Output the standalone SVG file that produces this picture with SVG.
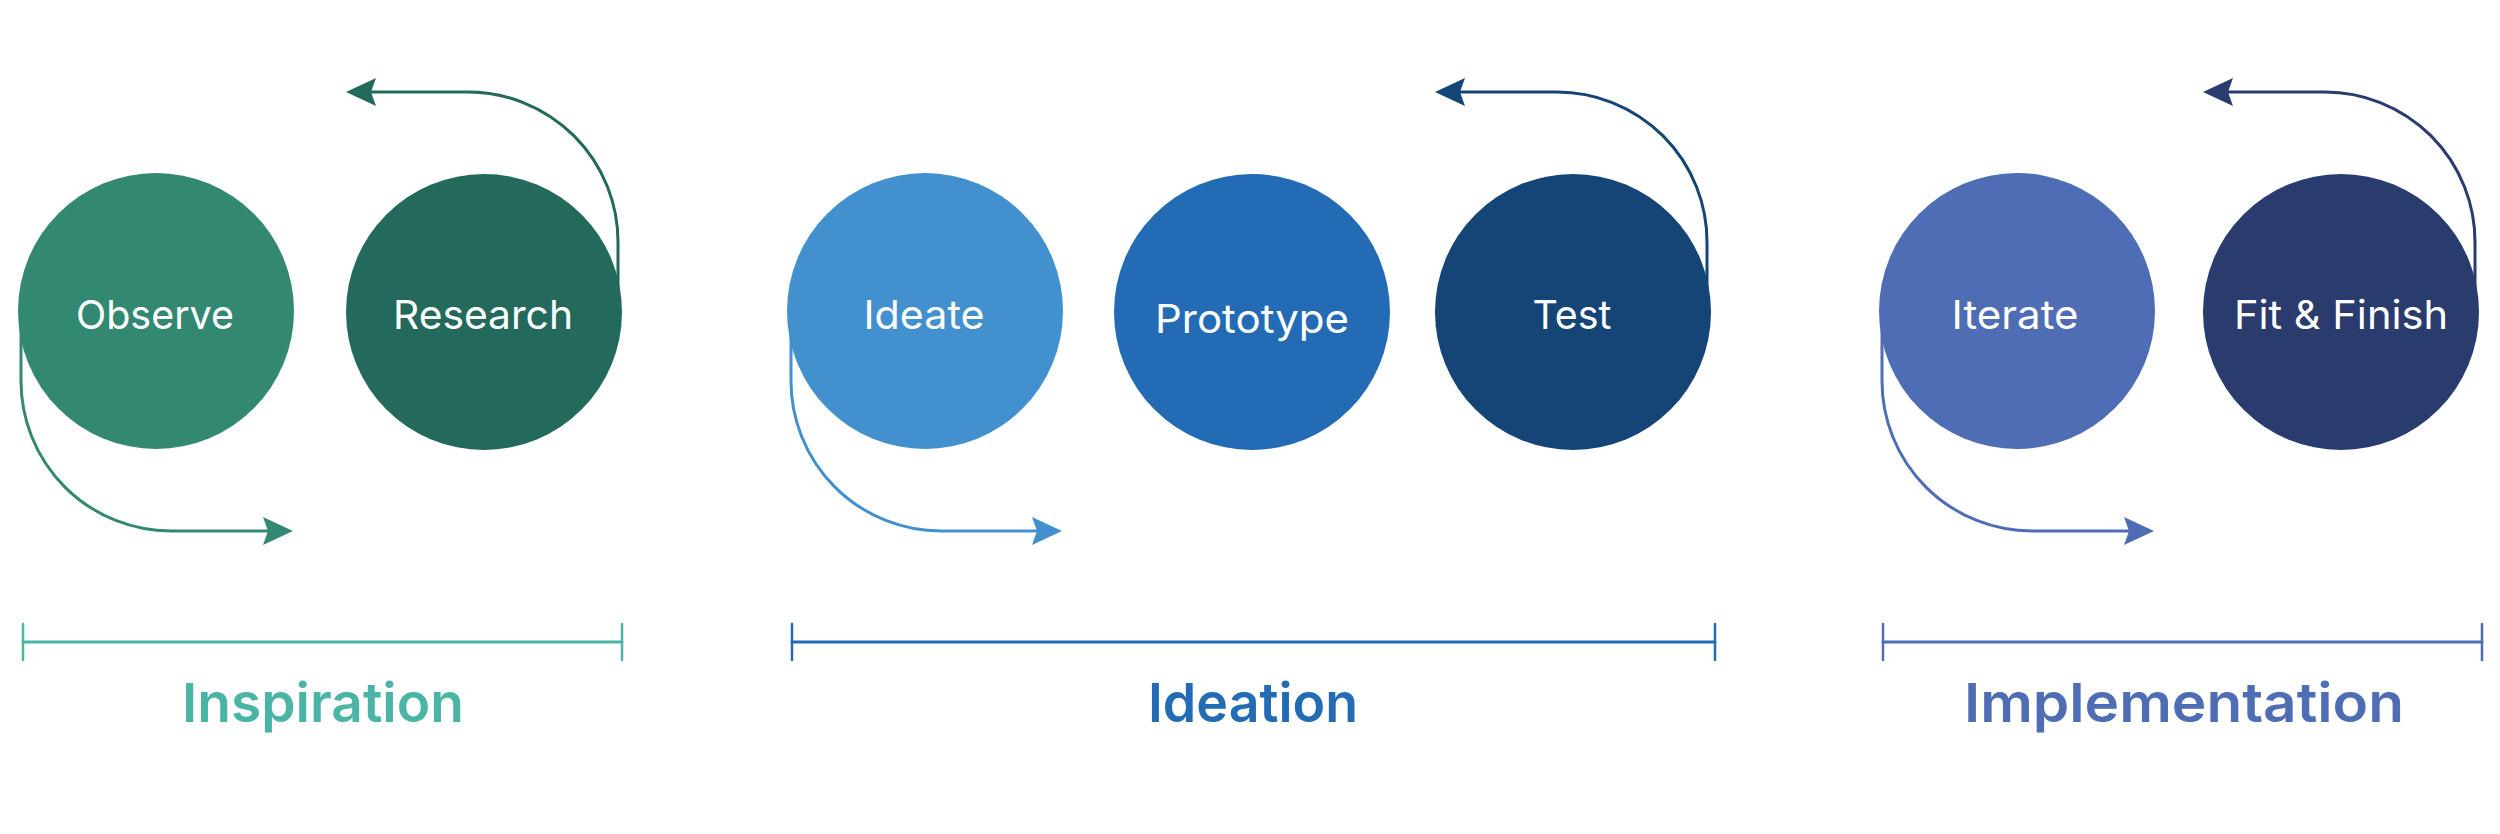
<svg xmlns="http://www.w3.org/2000/svg" width="2500" height="834" viewBox="0 0 2500 834">
<style>
.lbl{font-family:Inter,"Noto Sans","Liberation Sans",sans-serif;font-size:40px;fill:#ffffff;text-anchor:middle}
.sec{font-family:Inter,"Noto Sans","Liberation Sans",sans-serif;font-size:54px;font-weight:600;text-anchor:middle}
.conn{fill:none;stroke-width:3}
.bar{fill:none;stroke-width:3;stroke-linecap:round}
.tick{fill:none;stroke-width:2.5;stroke-linecap:round}
</style>
<defs>
<marker id="m1" markerUnits="userSpaceOnUse" viewBox="-6 -16 33 32" markerWidth="33" markerHeight="32" refX="0" refY="0" orient="auto"><path d="M25,0 L-5,-14 L0,0 L-5,14 Z" fill="#338872"/></marker>
<marker id="m2" markerUnits="userSpaceOnUse" viewBox="-6 -16 33 32" markerWidth="33" markerHeight="32" refX="0" refY="0" orient="auto"><path d="M25,0 L-5,-14 L0,0 L-5,14 Z" fill="#236A5C"/></marker>
<marker id="m3" markerUnits="userSpaceOnUse" viewBox="-6 -16 33 32" markerWidth="33" markerHeight="32" refX="0" refY="0" orient="auto"><path d="M25,0 L-5,-14 L0,0 L-5,14 Z" fill="#4291CE"/></marker>
<marker id="m4" markerUnits="userSpaceOnUse" viewBox="-6 -16 33 32" markerWidth="33" markerHeight="32" refX="0" refY="0" orient="auto"><path d="M25,0 L-5,-14 L0,0 L-5,14 Z" fill="#154577"/></marker>
<marker id="m5" markerUnits="userSpaceOnUse" viewBox="-6 -16 33 32" markerWidth="33" markerHeight="32" refX="0" refY="0" orient="auto"><path d="M25,0 L-5,-14 L0,0 L-5,14 Z" fill="#4F6DB4"/></marker>
<marker id="m6" markerUnits="userSpaceOnUse" viewBox="-6 -16 33 32" markerWidth="33" markerHeight="32" refX="0" refY="0" orient="auto"><path d="M25,0 L-5,-14 L0,0 L-5,14 Z" fill="#2A3B6E"/></marker>
</defs>
<rect width="2500" height="834" fill="#ffffff"/>

<g id="connectors">
<path class="conn" stroke="#338872" marker-end="url(#m1)" d="M21,311 V381 A150,150 0 0 0 171,531 H268"/>
<path class="conn" stroke="#236A5C" marker-end="url(#m2)" d="M618,311 V242 A150,150 0 0 0 468,92 H371"/>
<path class="conn" stroke="#4291CE" marker-end="url(#m3)" d="M791,311 V381 A150,150 0 0 0 941,531 H1037"/>
<path class="conn" stroke="#154577" marker-end="url(#m4)" d="M1707,311 V242 A150,150 0 0 0 1557,92 H1460"/>
<path class="conn" stroke="#4F6DB4" marker-end="url(#m5)" d="M1882,311 V381 A150,150 0 0 0 2032,531 H2129"/>
<path class="conn" stroke="#2A3B6E" marker-end="url(#m6)" d="M2475,311 V242 A150,150 0 0 0 2325,92 H2228"/>
</g>

<g id="node-observe"><circle cx="156" cy="311" r="138" fill="#338872"/><text class="lbl" x="155" y="329" textLength="158" lengthAdjust="spacingAndGlyphs">Observe</text></g>
<g id="node-research"><circle cx="484" cy="312" r="138" fill="#236A5C"/><text class="lbl" x="483" y="329" textLength="180" lengthAdjust="spacingAndGlyphs">Research</text></g>
<g id="node-ideate"><circle cx="925" cy="311" r="138" fill="#4291CE"/><text class="lbl" x="924" y="329" textLength="121" lengthAdjust="spacingAndGlyphs">Ideate</text></g>
<g id="node-prototype"><circle cx="1252" cy="312" r="138" fill="#236CB5"/><text class="lbl" x="1252" y="333" textLength="194" lengthAdjust="spacingAndGlyphs">Prototype</text></g>
<g id="node-test"><circle cx="1573" cy="312" r="138" fill="#154577"/><text class="lbl" x="1572" y="329" textLength="79" lengthAdjust="spacingAndGlyphs">Test</text></g>
<g id="node-iterate"><circle cx="2017" cy="311" r="138" fill="#4F6DB4"/><text class="lbl" x="2015" y="329" textLength="127" lengthAdjust="spacingAndGlyphs">Iterate</text></g>
<g id="node-fit-finish"><circle cx="2341" cy="312" r="138" fill="#2A3B6E"/><text class="lbl" x="2341" y="329" textLength="214" lengthAdjust="spacingAndGlyphs">Fit &amp; Finish</text></g>

<g id="phase-inspiration">
<line class="bar" stroke="#4BB5A5" x1="23" y1="642" x2="622" y2="642"/>
<line class="tick" stroke="#4BB5A5" x1="23" y1="624" x2="23" y2="660"/>
<line class="tick" stroke="#4BB5A5" x1="622" y1="624" x2="622" y2="660"/>
<text class="sec" fill="#4BB5A5" x="323" y="722" textLength="282" lengthAdjust="spacingAndGlyphs">Inspiration</text>
</g>
<g id="phase-ideation">
<line class="bar" stroke="#236CB5" x1="792" y1="642" x2="1715" y2="642"/>
<line class="tick" stroke="#236CB5" x1="792" y1="624" x2="792" y2="660"/>
<line class="tick" stroke="#236CB5" x1="1715" y1="624" x2="1715" y2="660"/>
<text class="sec" fill="#236CB5" x="1253" y="722" textLength="210" lengthAdjust="spacingAndGlyphs">Ideation</text>
</g>
<g id="phase-implementation">
<line class="bar" stroke="#4F6DB4" x1="1883" y1="642" x2="2482" y2="642"/>
<line class="tick" stroke="#4F6DB4" x1="1883" y1="624" x2="1883" y2="660"/>
<line class="tick" stroke="#4F6DB4" x1="2482" y1="624" x2="2482" y2="660"/>
<text class="sec" fill="#4F6DB4" x="2184" y="722" textLength="440" lengthAdjust="spacingAndGlyphs">Implementation</text>
</g>
</svg>
